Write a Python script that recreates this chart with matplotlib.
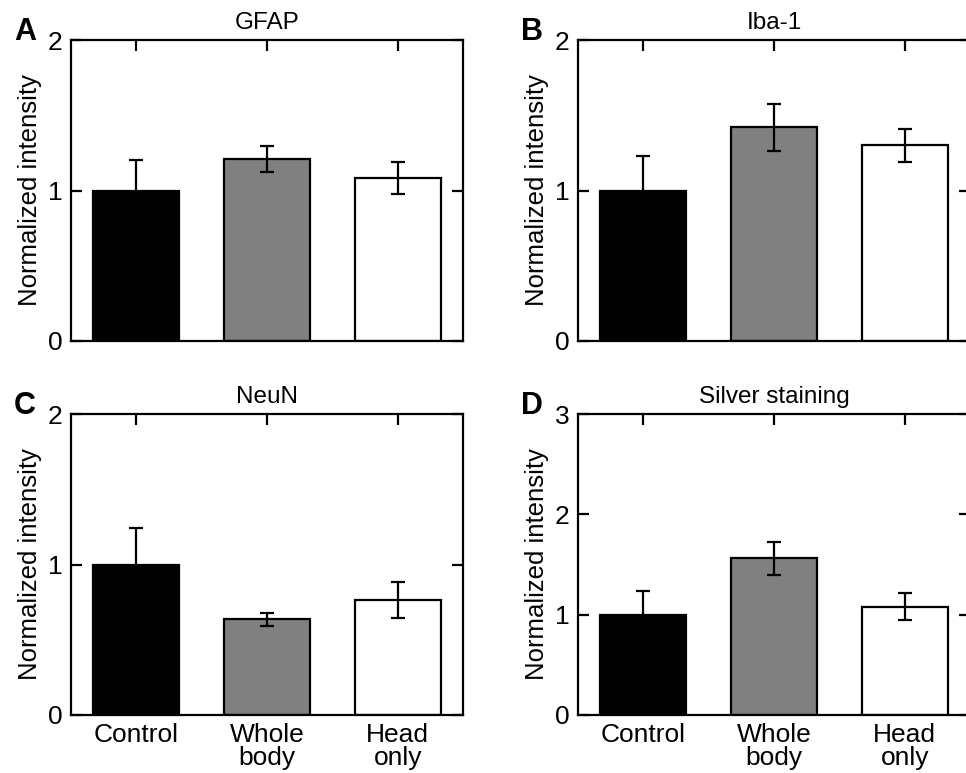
import matplotlib
matplotlib.use("Agg")
import matplotlib.pyplot as plt
import numpy as np

plt.rcParams['font.family'] = ['Liberation Sans', 'DejaVu Sans']

categories = ["Control", "Whole\nbody", "Head\nonly"]
bar_colors = ["#000000", "#808080", "#ffffff"]

gfap_mean = [1.00, 1.21, 1.085]
gfap_err = [0.20, 0.085, 0.105]
iba_mean = [1.00, 1.42, 1.30]
iba_err = [0.23, 0.155, 0.11]
neun_mean = [1.00, 0.635, 0.765]
neun_err = [0.24, 0.042, 0.122]
silver_mean = [1.00, 1.56, 1.08]
silver_err = [0.24, 0.168, 0.137]

panels = [
    ("A", "GFAP", gfap_mean, gfap_err, 2, False),
    ("B", "Iba-1", iba_mean, iba_err, 2, False),
    ("C", "NeuN", neun_mean, neun_err, 2, True),
    ("D", "Silver staining", silver_mean, silver_err, 3, True),
]

W, H = 966, 773
fig = plt.figure(figsize=(W / 100, H / 100), dpi=100)

lefts = [71, 578, 71, 578]
bottoms_px = [341, 341, 715, 715]
aw, ah = 392, 301

for i, (letter, title, mean, err, ymax, xlabels) in enumerate(panels):
    ax = fig.add_axes([lefts[i] / W, (H - bottoms_px[i]) / H, aw / W, ah / H])
    x = np.arange(len(categories))
    ax.bar(x, mean, width=0.66, color=bar_colors, edgecolor="black",
           linewidth=1.6, zorder=2)
    ax.errorbar(x, mean, yerr=err, fmt="none", ecolor="black",
                elinewidth=1.6, capsize=5, capthick=1.6, zorder=3)
    ax.set_xlim(-0.5, 2.5)
    ax.set_ylim(0, ymax)
    ax.set_yticks(range(0, ymax + 1))
    ax.set_xticks(x)
    if xlabels:
        ax.set_xticklabels(categories, fontsize=19, linespacing=0.92)
    else:
        ax.set_xticklabels([])
    ax.tick_params(axis="both", which="both", direction="in", length=8,
                   width=1.6, top=True, right=True, labelsize=19, pad=6,
                   zorder=4)
    for s in ax.spines.values():
        s.set_linewidth(1.6)
        s.set_zorder(5)
    ax.set_ylabel("Normalized intensity", fontsize=18.5, labelpad=4)
    ax.set_title(title, fontsize=17.5, pad=8)
    fig.text((lefts[i] - 57) / W, (H - bottoms_px[i] + ah) / H, letter,
             fontsize=22, fontweight="bold", ha="left", va="baseline")

fig.savefig("out.png", dpi=100)
